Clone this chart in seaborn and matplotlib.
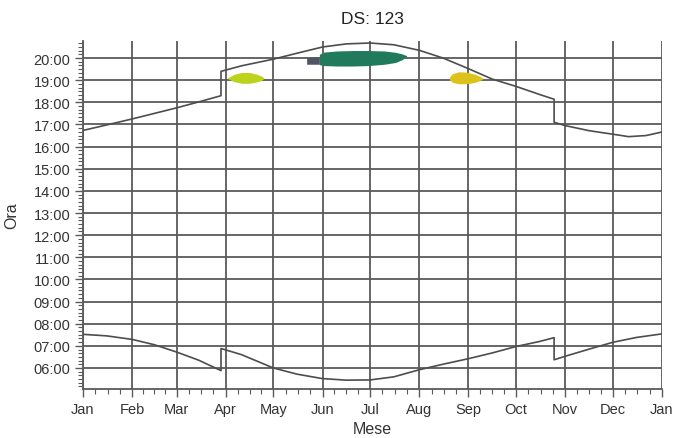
import numpy as np
import pandas as pd
import matplotlib
matplotlib.use("Agg")
import matplotlib.pyplot as plt
from matplotlib.ticker import FixedLocator
import seaborn as sns

# ---- data (day of year, hour of day) ----
sunset_day = [0, 15, 31, 45, 59, 73, 87, 87, 100, 120, 135, 151, 166, 181, 196,
              212, 227, 243, 258, 273, 288, 297, 297, 304, 319, 334, 344, 355, 365]
sunset_hour = [16.73, 16.98, 17.25, 17.50, 17.75, 18.02, 18.30, 19.40, 19.65, 19.95,
               20.22, 20.50, 20.64, 20.68, 20.60, 20.35, 20.00, 19.52, 19.05, 18.72,
               18.35, 18.14, 17.10, 16.95, 16.72, 16.56, 16.45, 16.50, 16.66]

sunrise_day = [0, 15, 31, 45, 59, 73, 87, 87, 100, 120, 135, 151, 166, 181, 196,
               212, 227, 243, 258, 273, 288, 297, 297, 304, 319, 334, 349, 365]
sunrise_hour = [7.52, 7.45, 7.29, 7.05, 6.72, 6.35, 5.88, 6.88, 6.60, 6.00, 5.72,
                5.52, 5.45, 5.46, 5.60, 5.92, 6.17, 6.42, 6.68, 6.97, 7.20, 7.37,
                6.37, 6.53, 6.85, 7.16, 7.38, 7.54]

# observation clusters
spring_day = [91, 95, 100, 105, 110, 113, 114]
spring_lo = [19.08, 18.94, 18.86, 18.86, 18.93, 19.01, 19.08]
spring_hi = [19.10, 19.26, 19.35, 19.35, 19.26, 19.17, 19.10]

summer_gray_day = [141, 149]
summer_gray_lo = [19.72, 19.72]
summer_gray_hi = [20.04, 20.06]

summer_day = [149, 152, 160, 170, 180, 190, 197, 201, 204]
summer_lo = [19.70, 19.66, 19.64, 19.64, 19.66, 19.72, 19.80, 19.92, 20.06]
summer_hi = [20.17, 20.27, 20.32, 20.34, 20.34, 20.32, 20.26, 20.19, 20.11]

autumn_day = [231, 233, 237, 242, 247, 250, 252]
autumn_lo = [19.02, 18.90, 18.84, 18.84, 18.90, 18.98, 19.06]
autumn_hi = [19.14, 19.30, 19.38, 19.36, 19.27, 19.18, 19.10]

month_labels = ["Jan", "Feb", "Mar", "Apr", "May", "Jun", "Jul", "Aug", "Sep",
                "Oct", "Nov", "Dec", "Jan"]
month_start = [0, 31, 59, 90, 120, 151, 181, 212, 243, 273, 304, 334, 365]
hour_ticks = list(range(6, 21))

title = "DS: 123"
xlabel = "Mese"
ylabel = "Ora"

# ---- style ----
sns.set_style("white")
plt.rcParams["font.family"] = ["Liberation Sans", "DejaVu Sans"]

fig = plt.figure(figsize=(6.77, 4.39), dpi=100)
ax = fig.add_axes([0.1226, 0.1116, 0.8552, 0.7927])

line_col = "#4d4d4d"
grid_col = "#5a5a5a"

# clusters
ax.fill_between(spring_day, spring_lo, spring_hi, color="#bcd31c", lw=0, zorder=3)
ax.fill_between(summer_gray_day, summer_gray_lo, summer_gray_hi, color="#4f5663", lw=0, zorder=3)
ax.fill_between(summer_day, summer_lo, summer_hi, color="#217a5c", lw=0, zorder=3)
ax.fill_between(autumn_day, autumn_lo, autumn_hi, color="#dcc21a", lw=0, zorder=3)

sset = pd.DataFrame({"day": sunset_day, "hour": sunset_hour})
srise = pd.DataFrame({"day": sunrise_day, "hour": sunrise_hour})
sns.lineplot(data=sset, x="day", y="hour", sort=False, estimator=None,
             color=line_col, lw=1.2, ax=ax, zorder=4)
sns.lineplot(data=srise, x="day", y="hour", sort=False, estimator=None,
             color=line_col, lw=1.2, ax=ax, zorder=4)

ax.set_xlim(0, 365)
ax.set_ylim(5.05, 20.77)

ax.set_xticks(month_start)
ax.set_xticklabels(month_labels)
minor_x = []
for a, b in zip(month_start[:-1], month_start[1:]):
    minor_x += [a + (b - a) * k / 4 for k in (1, 2, 3)]
ax.xaxis.set_minor_locator(FixedLocator(minor_x))

ax.set_yticks(hour_ticks)
ax.set_yticklabels([f"{h:02d}:00" for h in hour_ticks])
ax.yaxis.set_minor_locator(FixedLocator(np.arange(5.0 + 1/6, 20.8, 1/6)))

ax.grid(True, which="major", color=grid_col, lw=1.3, zorder=1)
ax.set_axisbelow(True)

for s in ["top", "right"]:
    ax.spines[s].set_visible(False)
for s in ["left", "bottom"]:
    ax.spines[s].set_color(grid_col)
    ax.spines[s].set_linewidth(1.3)

ax.tick_params(axis="both", which="major", direction="out", length=6, width=1,
               color=grid_col, labelsize=10.5, labelcolor="#333333", pad=3,
               left=True, bottom=True)
ax.tick_params(axis="both", which="minor", direction="out", length=3.5, width=0.8,
               color=grid_col, left=True, bottom=True)

ax.set_title(title, fontsize=12.5, color="#222222", pad=13)
ax.set_xlabel(xlabel, fontsize=11.5, color="#333333", labelpad=4)
ax.set_ylabel(ylabel, fontsize=11.5, color="#333333", labelpad=10)

fig.savefig("out.png", dpi=100, facecolor="white")
